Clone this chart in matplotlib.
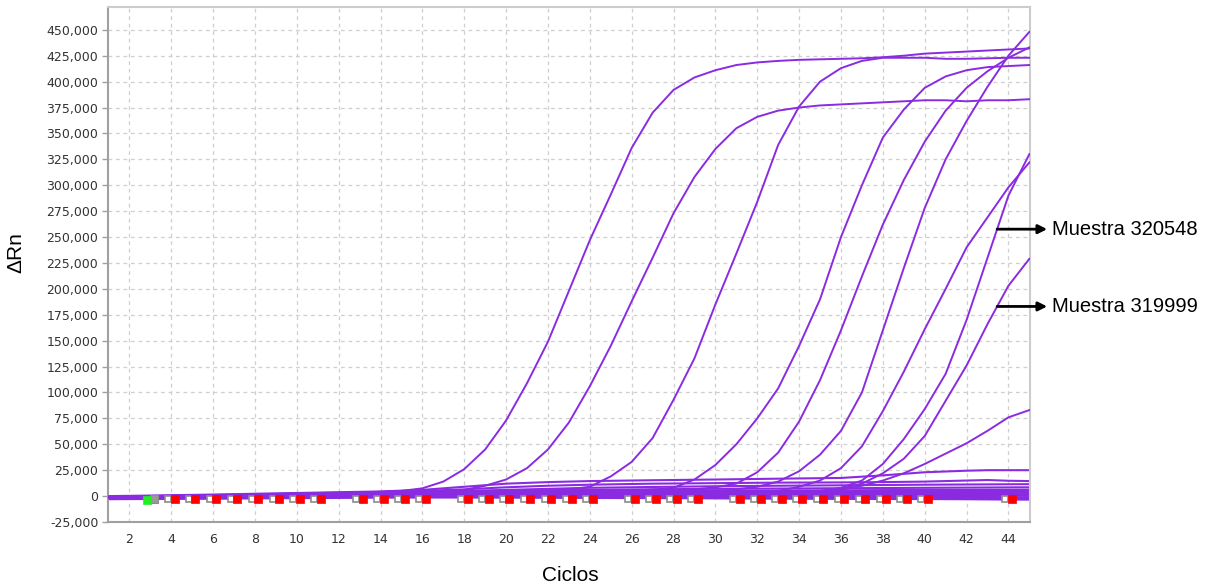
import numpy as np
import matplotlib
matplotlib.use('Agg')
import matplotlib.pyplot as plt
import matplotlib.transforms as mtransforms
from matplotlib.ticker import FuncFormatter, MultipleLocator

plt.rcParams['axes.unicode_minus'] = False

# amplification plot, delta Rn in thousands for cycles 1..45
cycles = np.arange(1, 46)

well_a = [-0.5, -0.3, 0, 0.2, 0.4, 0.7, 1.0, 1.3, 1.7, 2.0, 2.4, 2.8, 3.3, 4.0, 5.0, 7.5, 14, 26, 45, 73,
          109, 149, 198, 247, 291, 336, 370, 392, 404, 411, 416, 418.5, 420, 421, 421.5, 422, 422.5, 423.5,
          425, 427, 428, 429, 430, 431, 432]
well_b = [-1.0, -0.8, -0.5, -0.2, 0.2, 0.5, 0.9, 1.2, 1.6, 2.0, 2.4, 2.8, 3.2, 3.6, 4.0, 4.4, 5.0, 6.0, 10, 16,
          27, 45, 71, 106, 145, 188, 230, 273, 308, 335, 355, 366, 372, 375, 377, 378, 379, 380, 381, 382,
          382, 381, 382, 382, 383]
well_c = [-1.5, -1.2, -0.8, -0.5, -0.2, 0.2, 0.5, 0.8, 1.1, 1.4, 1.7, 2.0, 2.3, 2.6, 2.9, 3.2, 3.5, 3.8, 4.1,
          4.4, 4.8, 5.5, 6.5, 9, 19, 33, 56, 93, 133, 185, 234, 284, 339, 376, 400, 413, 420, 423, 423, 423,
          422, 422, 422.5, 423, 423]
well_d = [-1.0, -0.8, -0.6, -0.4, -0.2, 0.0, 0.3, 0.6, 0.9, 1.2, 1.5, 1.8, 2.1, 2.4, 2.7, 3.0, 3.2, 3.4, 3.6,
          3.8, 4.0, 4.2, 4.4, 4.6, 4.8, 5.2, 6.2, 8, 16, 30, 50, 75, 104, 145, 190, 250, 300, 346, 373, 394,
          405, 411, 414, 415, 416]
well_e = [-0.5, -0.3, -0.1, 0.1, 0.3, 0.6, 0.9, 1.2, 1.5, 1.8, 2.1, 2.4, 2.7, 3.0, 3.2, 3.4, 3.6, 3.8, 4.0,
          4.1, 4.2, 4.3, 4.4, 4.5, 4.6, 4.7, 4.8, 5.0, 6.5, 8.5, 12, 23, 42, 72, 112, 160, 212, 262, 305,
          342, 372, 394, 410, 423, 433]
well_f = [-1.5, -1.2, -0.9, -0.6, -0.3, 0.0, 0.3, 0.6, 0.9, 1.2, 1.5, 1.8, 2.0, 2.2, 2.4, 2.6, 2.8, 3.0, 3.2,
          3.4, 3.5, 3.6, 3.7, 3.8, 3.9, 4.0, 4.1, 4.3, 4.6, 5.0, 6.5, 9, 14, 24, 40, 63, 100, 160, 220, 278,
          325, 362, 395, 425, 448]
well_g = [-2.0, -1.7, -1.4, -1.1, -0.8, -0.5, -0.2, 0.1, 0.4, 0.7, 1.0, 1.3, 1.6, 1.8, 2.0, 2.2, 2.4, 2.6,
          2.8, 3.0, 3.1, 3.2, 3.3, 3.4, 3.5, 3.6, 3.7, 3.8, 3.9, 4.0, 4.1, 4.3, 5, 9, 15, 27, 48, 82, 120, 161,
          200, 240, 269, 298, 322]
# Muestra 320548
well_h = [-1.0, -0.8, -0.6, -0.4, -0.2, 0.0, 0.2, 0.4, 0.6, 0.8, 1.0, 1.2, 1.4, 1.6, 1.8, 2.0, 2.1, 2.2, 2.3,
          2.4, 2.5, 2.6, 2.7, 2.8, 2.9, 3.0, 3.1, 3.2, 3.3, 3.4, 3.5, 3.6, 3.8, 4.2, 5, 8, 15, 31, 55, 84,
          118, 170, 230, 290, 330]
# Muestra 319999
well_i = [-1.5, -1.3, -1.1, -0.9, -0.7, -0.5, -0.3, -0.1, 0.1, 0.3, 0.5, 0.7, 0.9, 1.1, 1.3, 1.5, 1.7, 1.9,
          2.0, 2.1, 2.2, 2.3, 2.4, 2.5, 2.6, 2.7, 2.8, 2.9, 3.0, 3.0, 3.1, 3.1, 3.2, 3.4, 4, 7, 12, 22, 36,
          58, 92, 126, 166, 203, 229]
well_s = [-0.5, -0.3, -0.1, 0.1, 0.3, 0.5, 0.7, 0.9, 1.1, 1.3, 1.5, 1.7, 1.9, 2.0, 2.1, 2.2, 2.3, 2.4, 2.5,
          2.6, 2.7, 2.8, 2.9, 3.0, 3.0, 3.1, 3.1, 3.2, 3.2, 3.3, 3.3, 3.4, 3.4, 3.5, 4.5, 6, 10, 15, 22, 31,
          41, 51, 63, 76, 83]

# wells that never amplify, read at fewer cycles
flat_cycles = [1, 3, 6, 10, 14, 16, 18, 20, 22, 24, 27, 30, 33, 36, 38, 40, 42, 43, 44, 45]
low_1 = [0.0, 0.5, 1.5, 3.0, 4.5, 6.0, 9.0, 12.0, 13.5, 14.5, 15.3, 16.0, 16.8, 17.5, 20.0, 23.0, 24.5, 25.0, 25.0, 25.0]
low_2 = [-0.5, 0.0, 1.0, 2.5, 4.0, 5.0, 6.5, 8.5, 10.0, 11.0, 12.0, 12.5, 13.0, 13.2, 13.5, 14.0, 15.0, 15.5, 14.8, 14.5]
low_3 = [-0.5, 0.0, 0.5, 2.0, 3.5, 4.2, 5.0, 6.0, 7.0, 8.0, 8.8, 9.5, 10.0, 10.4, 10.7, 11.0, 11.2, 11.3, 11.4, 11.5]
low_4 = [-1.0, -0.5, 0.5, 1.5, 3.0, 3.5, 4.0, 4.8, 5.5, 6.0, 6.6, 7.0, 7.3, 7.6, 7.8, 8.0, 8.2, 8.3, 8.4, 8.5]
low_5 = [-1.0, -0.5, 0.0, 1.0, 2.5, 3.0, 3.3, 3.7, 4.1, 4.5, 5.0, 5.2, 5.4, 5.6, 5.8, 6.0, 6.0, 6.1, 6.1, 6.2]
base_1 = [-1, -0.5, 0, 1, 2, 2.3, 2.6, 3, 3.3, 3.5, 3.8, 4, 4.2, 4.4, 4.5, 4.7, 4.8, 4.9, 5, 5]
base_2 = [-1.5, -1, -0.5, 0.5, 1.5, 2, 2.3, 2.6, 2.9, 3.1, 3.3, 3.5, 3.6, 3.8, 3.9, 4, 4, 4.1, 4.1, 4.2]
base_3 = [-2, -1.5, -1, 0, 1, 1.5, 1.8, 2.1, 2.4, 2.6, 2.8, 3, 3.1, 3.2, 3.3, 3.3, 3.4, 3.4, 3.5, 3.5]
base_4 = [-0.5, 0, 0.5, 1.5, 2, 2.2, 2.3, 2.4, 2.5, 2.6, 2.6, 2.7, 2.7, 2.7, 2.6, 2.6, 2.5, 2.5, 2.5, 2.5]
base_5 = [-1, -0.7, -0.3, 0.5, 1.2, 1.4, 1.5, 1.6, 1.7, 1.8, 1.8, 1.8, 1.8, 1.7, 1.7, 1.6, 1.6, 1.6, 1.5, 1.5]
base_6 = [-2.5, -2, -1.5, -0.5, 0.5, 0.8, 1, 1.1, 1.2, 1.2, 1.2, 1.1, 1, 0.9, 0.8, 0.7, 0.6, 0.5, 0.5, 0.5]
base_7 = [-1.5, -1.2, -0.8, 0, 0.5, 0.6, 0.6, 0.5, 0.4, 0.3, 0.1, -0.1, -0.3, -0.5, -0.6, -0.7, -0.8, -0.9, -1, -1]
base_8 = [-2, -1.8, -1.5, -0.8, 0, 0.1, 0.1, 0, -0.2, -0.4, -0.7, -1, -1.3, -1.5, -1.7, -1.8, -1.9, -2, -2, -2]
base_9 = [-2.5, -2.3, -2, -1.5, -0.8, -0.7, -0.7, -0.8, -1, -1.2, -1.5, -1.8, -2.1, -2.4, -2.6, -2.7, -2.8, -2.9, -3, -3]
base_10 = [-3, -2.8, -2.5, -2, -1.5, -1.4, -1.4, -1.5, -1.6, -1.8, -2, -2.2, -2.4, -2.6, -2.8, -2.9, -3, -3.1, -3.2, -3.3]

# baseline start/end flags under the curves
marker_cycles = [4, 5, 6, 7, 8, 9, 10, 11, 13, 14, 15, 16, 18, 19, 20, 21, 22, 23, 24, 26, 27, 28, 29,
                 31, 32, 33, 34, 35, 36, 37, 38, 39, 40, 44]
start_cycles = [3]
marker_level = -3.0

labels = ['Muestra 320548', 'Muestra 319999']
label_cycle = 43.46

purple = '#8a2be2'

fig = plt.figure(figsize=(12.08, 5.85), dpi=100)
ax = fig.add_axes([108 / 1208, 63 / 585, 922 / 1208, 515 / 585])

for vals in [base_1, base_2, base_3, base_4, base_5, base_6, base_7, base_8, base_9, base_10,
             low_1, low_2, low_3, low_4, low_5]:
    ax.plot(flat_cycles, np.array(vals) * 1000, color=purple, lw=1.5, zorder=2)

for vals in [well_a, well_b, well_c, well_d, well_e, well_f, well_g, well_h, well_i, well_s]:
    ax.plot(cycles, np.array(vals) * 1000, color=purple, lw=1.4, zorder=3)

# flag squares, shifted a few pixels left/right of their cycle
shift_l = ax.transData + mtransforms.ScaledTranslation(-2.4 / 72, 0, fig.dpi_scale_trans)
shift_r = ax.transData + mtransforms.ScaledTranslation(2.4 / 72, 0, fig.dpi_scale_trans)
flag_y = [marker_level * 1000] * len(marker_cycles)
ax.plot(marker_cycles, flag_y, ls='none', marker='s', ms=5,
        mfc='white', mec='#8c8c8c', mew=1.2, transform=shift_l, zorder=5)
ax.plot(marker_cycles, flag_y, ls='none', marker='s', ms=5.6,
        mfc='#ff0000', mec='#ff0000', mew=0.5, transform=shift_r, zorder=6)
ax.plot(start_cycles, [marker_level * 1000] * len(start_cycles), ls='none', marker='s', ms=5.6,
        mfc='#9a9a9a', mec='#8c8c8c', mew=0.8, transform=shift_r, zorder=5)
ax.plot(start_cycles, [marker_level * 1000 - 500] * len(start_cycles), ls='none', marker='s', ms=6,
        mfc='#22ee22', mec='#22ee22', mew=0.5, transform=shift_l, zorder=6)

# sample callouts
for text, vals in zip(labels, [well_h, well_i]):
    y = np.interp(label_cycle, cycles, np.array(vals) * 1000)
    ax.annotate('', xy=(45.85, y), xytext=(label_cycle, y),
                arrowprops=dict(arrowstyle='-|>', color='black', lw=2, mutation_scale=13,
                                shrinkA=0, shrinkB=0),
                annotation_clip=False)
    ax.text(46.1, y, text, ha='left', va='center', fontsize=14.5, family='Liberation Sans',
            color='black', clip_on=False)

ax.set_xlim(0.98, 45.03)
ax.set_ylim(-25000, 472000)
ax.xaxis.set_major_locator(MultipleLocator(2))
ax.yaxis.set_major_locator(MultipleLocator(25000))
ax.yaxis.set_major_formatter(FuncFormatter(lambda v, p: f'{int(round(v)):,}'))

ax.grid(True, color='#cfcfcf', lw=0.9, ls=(0, (3, 3)))
ax.set_axisbelow(True)

for side in ['left', 'bottom']:
    ax.spines[side].set_color('#a0a0a0')
    ax.spines[side].set_linewidth(1.5)
for side in ['top', 'right']:
    ax.spines[side].set_color('#cccccc')
    ax.spines[side].set_linewidth(1.5)

ax.tick_params(axis='y', length=4, width=1, color='#a0a0a0', labelsize=9, labelcolor='#333333', pad=3)
ax.tick_params(axis='x', length=0, labelsize=9, labelcolor='#333333', pad=8)

ax.set_ylabel('ΔRn', fontsize=15, family='Liberation Sans')
ax.yaxis.set_label_coords(-0.090, 0.524)
ax.set_xlabel('Ciclos', fontsize=15, family='Liberation Sans')
ax.xaxis.set_label_coords(0.501, -0.085)

fig.savefig('out.png', dpi=100)
